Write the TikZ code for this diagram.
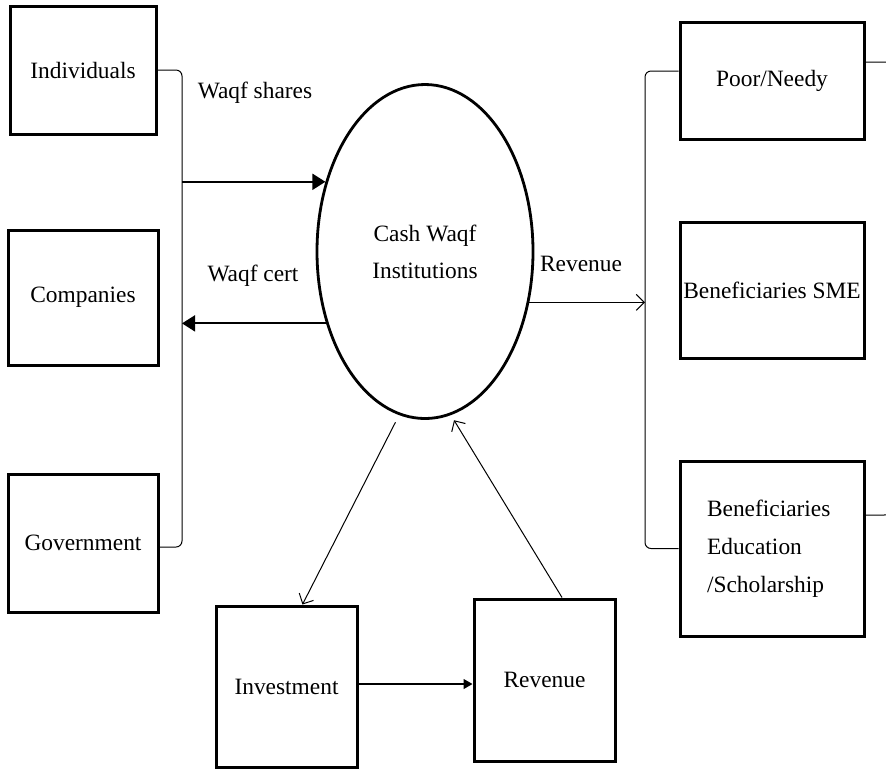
\documentclass[tikz,border=0pt]{standalone}
\usepackage{fontspec}
\setmainfont{Liberation Serif}
\usetikzlibrary{shapes.geometric,arrows.meta}

\begin{document}
\begin{tikzpicture}[x=0.5pt,y=-0.5pt,
        every node/.style={font=\fontsize{11.7}{18.5}\selectfont},
        box/.style={draw,line width=1.5pt,align=center,inner sep=0pt},
        brace/.style={line width=0.5pt,rounded corners=3pt},
        bold/.style={line width=0.9pt,-{Triangle[length=6.5pt,width=8pt]}},
        thinarr/.style={line width=0.5pt,-{Straight Barb[length=4pt,width=8pt]}}]
    \useasboundingbox (0,0) rectangle (886,768);
    % givers
    \node[box,minimum width=73pt,minimum height=64pt] (ind) at (83,70) {Individuals};
    \node[box,minimum width=75pt,minimum height=67.5pt] (com) at (83,297.5) {Companies};
    \node[box,minimum width=75pt,minimum height=69pt] (gov) at (83,543) {Government};
    % institution
    \node[draw,ellipse,line width=1.4pt,align=center,minimum width=108pt,minimum height=167pt] (cwi) at (425,251.5) {Cash Waqf\\Institutions};
    % beneficiaries
    \node[box,minimum width=92pt,minimum height=58.5pt] (poor) at (772,80.5) {Poor/Needy};
    \node[box,minimum width=92pt,minimum height=68pt] (sme) at (772,290) {Beneficiaries SME};
    \node[box,minimum width=92pt,minimum height=87.5pt,text width=65pt,align=left,
          font=\fontsize{11.7}{19}\selectfont] (edu) at (772,548.5) {Beneficiaries\\Education\\/Scholarship};
    % investment loop
    \node[box,minimum width=70.5pt,minimum height=80.5pt] (inv) at (286.5,686.5) {Investment};
    \node[box,minimum width=70.5pt,minimum height=81pt] (rev) at (544.5,680) {Revenue};
    % labels
    \node (lshares) at (255,93) {Waqf shares};
    \node (lcert) at (253,276) {Waqf cert};
    \node (lrev) at (581,264) {Revenue};
    % brackets
    \coordinate (lbar) at (182,0);
    \coordinate (rbar) at (645,0);
    \coordinate (rbar2) at (900,0);
    \draw[brace] (ind.east) -- (ind.east -| lbar) -- ([yshift=-2pt]gov.east -| lbar) -- ([yshift=-2pt]gov.east);
    \draw[brace] ([yshift=4.75pt]poor.west) -- ([yshift=4.75pt]poor.west -| rbar) -- (edu.west -| rbar) -- (edu.west);
    \draw[brace,rounded corners=8pt] ([yshift=9.25pt]poor.east) -- ([yshift=9.25pt]poor.east -| rbar2) -- ([yshift=16.75pt]edu.east -| rbar2) -- ([yshift=16.75pt]edu.east);
    % flows
    \draw[bold] (cwi.145 -| lbar) -- (cwi.145);
    \draw[bold] (cwi.216) -- (cwi.216 -| lbar);
    \draw[thinarr] (cwi.-26) -- (cwi.-26 -| rbar);
    \draw[thinarr,shorten <=4pt] (cwi.261) -- (inv.79);
    \draw[thinarr,shorten >=3pt] (rev.78) -- (cwi.279);
    \draw[line width=0.6pt,-{Triangle[length=4.5pt,width=5pt]}] (inv.east |- 0,684) -- (rev.west |- 0,684);
\end{tikzpicture}
\end{document}
